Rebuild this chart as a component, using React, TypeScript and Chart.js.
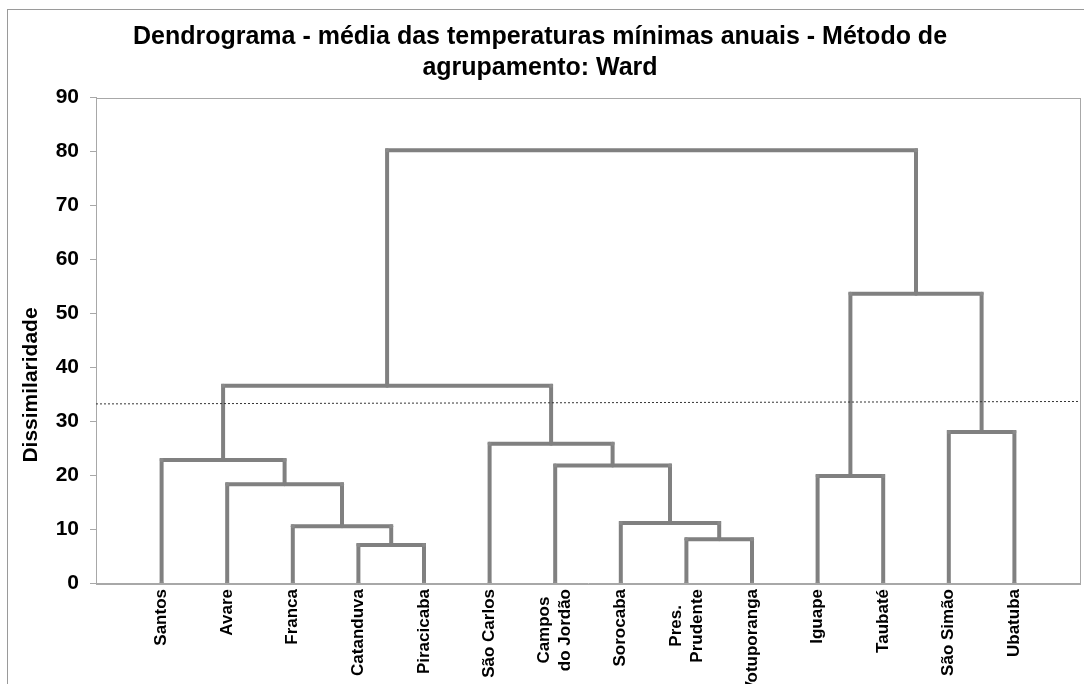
import React, { useEffect, useRef } from "react";
import { Chart, registerables } from "chart.js";

Chart.register(...registerables);

const titleLines = [
  "Dendrograma - média das temperaturas mínimas anuais - Método de",
  "agrupamento: Ward",
];
const yAxisTitle = "Dissimilaridade";

// leaves in dendrogram order
const leafLabels = [
  "Santos",
  "Avare",
  "Franca",
  "Catanduva",
  "Piracicaba",
  "São Carlos",
  "Campos\ndo Jordão",
  "Sorocaba",
  "Pres.\nPrudente",
  "Votuporanga",
  "Iguape",
  "Taubaté",
  "São Simão",
  "Ubatuba",
];

// linkage: merge k creates cluster id (leafLabels.length + k)
const mergeLeft = [3, 8, 2, 7, 1, 10, 6, 0, 5, 12, 21, 19, 24];
const mergeRight = [4, 9, 14, 15, 16, 11, 17, 18, 20, 13, 22, 23, 25];
const mergeHeight = [7.05, 8.1, 10.5, 11.1, 18.3, 19.85, 21.8, 22.8, 25.8, 28.0, 36.55, 53.6, 80.2];

// cut line (dotted)
const cutX = [0, 15];
const cutY = [33.2, 33.65];

const yTicksMin = 0;
const yTicksMax = 90;
const yTickStep = 10;

const FONT = "'Liberation Sans', Arial, Helvetica, sans-serif";
const LINE_COLOR = "#808080";
const AXIS_COLOR = "#a8a8a8";

function buildDendrogram() {
  const n = leafLabels.length;
  const nodeX: number[] = [];
  const nodeY: number[] = [];
  for (let i = 0; i < n; i++) {
    nodeX.push(i + 1);
    nodeY.push(0);
  }
  const segs: { x: number; y: number }[][] = [];
  for (let k = 0; k < mergeHeight.length; k++) {
    const a = mergeLeft[k];
    const b = mergeRight[k];
    const h = mergeHeight[k];
    segs.push([
      { x: nodeX[a], y: nodeY[a] },
      { x: nodeX[a], y: h },
      { x: nodeX[b], y: h },
      { x: nodeX[b], y: nodeY[b] },
    ]);
    nodeX.push((nodeX[a] + nodeX[b]) / 2);
    nodeY.push(h);
  }
  return segs;
}

const framePlugin = {
  id: "framePlugin",
  beforeDraw(chart: any) {
    const ctx = chart.ctx;
    ctx.save();
    ctx.strokeStyle = "#9a9a9a";
    ctx.lineWidth = 1;
    ctx.strokeRect(7.5, 9.5, 1200, 1000);
    const a = chart.chartArea;
    ctx.strokeStyle = AXIS_COLOR;
    ctx.strokeRect(Math.round(a.left) + 0.5, Math.round(a.top) + 0.5, Math.round(a.right - a.left), Math.round(a.bottom - a.top));
    ctx.restore();
  },
  afterDraw(chart: any) {
    const ctx = chart.ctx;
    const a = chart.chartArea;
    const xs = chart.scales.x;
    ctx.save();
    // y axis title
    ctx.fillStyle = "#000";
    ctx.font = `bold 21px ${FONT}`;
    ctx.textAlign = "center";
    ctx.textBaseline = "middle";
    ctx.translate(31, 385);
    ctx.rotate(-Math.PI / 2);
    ctx.fillText(yAxisTitle, 0, 0);
    ctx.restore();

    // leaf labels
    ctx.save();
    ctx.fillStyle = "#000";
    ctx.font = `bold 17px ${FONT}`;
    leafLabels.forEach((lab, i) => {
      const lines = lab.split("\n");
      const w = Math.max(...lines.map((l) => ctx.measureText(l).width));
      const px = xs.getPixelForValue(i + 1);
      ctx.save();
      ctx.translate(px, a.bottom + 6);
      ctx.rotate(-Math.PI / 2);
      ctx.textAlign = "center";
      ctx.textBaseline = "middle";
      const lh = 21;
      lines.forEach((l, j) => {
        ctx.fillText(l, -w / 2, (j - (lines.length - 1) / 2) * lh);
      });
      ctx.restore();
    });
    ctx.restore();
  },
};

export default function App() {
  const ref = useRef<HTMLCanvasElement | null>(null);
  useEffect(() => {
    if (!ref.current) return;
    const segs = buildDendrogram();
    const datasets: any[] = [
      {
        data: cutX.map((x, i) => ({ x, y: cutY[i] })),
        borderColor: "#333",
        borderWidth: 1,
        borderDash: [2, 2],
        pointRadius: 0,
        showLine: true,
      },
      ...segs.map((s) => ({
        data: s,
        borderColor: LINE_COLOR,
        backgroundColor: LINE_COLOR,
        borderWidth: 4,
        borderJoinStyle: "miter",
        borderCapStyle: "butt",
        pointRadius: 2,
        pointBorderWidth: 0,
        pointBackgroundColor: "#8a8a8a",
        showLine: true,
      })),
    ];
    const chart = new Chart(ref.current, {
      type: "scatter",
      data: { datasets },
      options: {
        animation: false,
        responsive: false,
        devicePixelRatio: 1,
        layout: { padding: { left: 0, right: 4, top: 0, bottom: 0 } },
        plugins: {
          legend: { display: false },
          tooltip: { enabled: false },
          title: {
            display: true,
            text: titleLines,
            color: "#000",
            font: { family: FONT, size: 25, weight: "bold", lineHeight: 1.25 },
            padding: { top: 21, bottom: 14 },
          },
        },
        scales: {
          x: {
            type: "linear",
            min: 0,
            max: 15,
            ticks: { display: false },
            grid: { display: false },
            border: { display: true, color: AXIS_COLOR },
            afterFit: (s: any) => {
              s.height = 101;
            },
          },
          y: {
            type: "linear",
            min: yTicksMin,
            max: yTicksMax,
            ticks: {
              stepSize: yTickStep,
              color: "#000",
              padding: 11,
              font: { family: FONT, size: 21, weight: "bold" },
            },
            grid: { drawOnChartArea: false, drawTicks: true, tickLength: 6, color: AXIS_COLOR },
            border: { display: true, color: AXIS_COLOR },
            afterFit: (s: any) => {
              s.width = 96;
            },
          },
        },
      } as any,
      plugins: [framePlugin],
    });
    return () => chart.destroy();
  }, []);
  return (
    <div style={{ position: "absolute", left: 0, top: 0, width: 1084, height: 684, overflow: "hidden", background: "#fff" }}>
      <canvas ref={ref} width={1084} height={684} style={{ display: "block" }} />
    </div>
  );
}
